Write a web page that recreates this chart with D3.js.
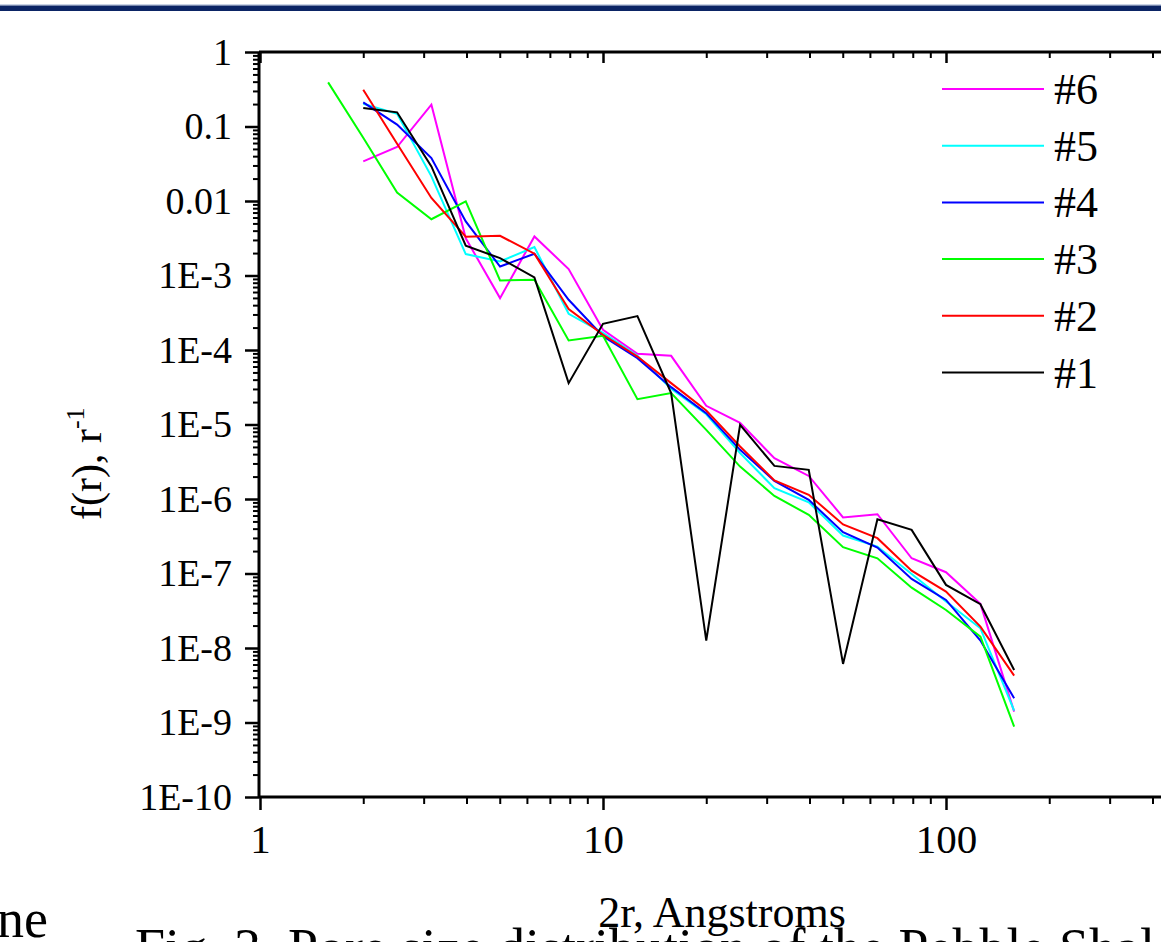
<!DOCTYPE html>
<html>
<head>
<meta charset="utf-8">
<script src="https://cdn.jsdelivr.net/npm/d3@7/dist/d3.min.js"></script>
<style>
  body { margin: 0; background: #fff; }
  svg { display: block; font-family: "Liberation Serif", "Times New Roman", serif; }
</style>
</head>
<body>
<svg id="chart" width="1161" height="942"></svg>
<script>
// pore diameter 2r, Angstroms
const diameters = [1.58, 2, 2.51, 3.16, 3.98, 5.01, 6.31, 7.94, 10, 12.6, 15.8,
                   20, 25.1, 31.6, 39.8, 50.1, 63.1, 79.4, 100, 126, 158];

// f(r) for each sample
const s6 = [null, 0.034, 0.053, 0.196, 3.16e-3, 4.97e-4, 3.34e-3, 1.22e-3, 1.87e-4, 8.9e-5, 8.35e-5,
            1.78e-5, 1.05e-5, 3.53e-6, 2.04e-6, 5.66e-7, 6.25e-7, 1.6e-7, 1.04e-7, 3.91e-8, 1.4e-9];
const s5 = [null, 0.202, 0.148, 0.0214, 1.94e-3, 1.54e-3, 2.41e-3, 3.06e-4, 1.7e-4, 8.35e-5, 3.01e-5,
            1.37e-5, 4.12e-6, 1.4e-6, 9.01e-7, 3.23e-7, 2.3e-7, 9.87e-8, 4.2e-8, 1.84e-8, 1.44e-9];
const s4 = [null, 0.211, 0.106, 0.0377, 5.31e-3, 1.32e-3, 1.96e-3, 4.72e-4, 1.53e-4, 7.78e-5, 3.17e-5,
            1.42e-5, 4.57e-6, 1.75e-6, 9.73e-7, 3.58e-7, 2.23e-7, 8.46e-8, 4.42e-8, 1.26e-8, 2.11e-9];
const s3 = [0.391, 0.0706, 0.013, 5.69e-3, 9.86e-3, 8.57e-4, 8.75e-4, 1.34e-4, 1.55e-4, 2.19e-5, 2.64e-5,
            8.47e-6, 2.72e-6, 1.1e-6, 6.12e-7, 2.26e-7, 1.6e-7, 6.46e-8, 3.24e-8, 1.42e-8, 8.8e-10];
const s2 = [null, 0.312, 0.0587, 0.011, 3.31e-3, 3.41e-3, 1.96e-3, 3.54e-4, 1.6e-4, 8.17e-5, 3.59e-5,
            1.54e-5, 5.06e-6, 1.78e-6, 1.14e-6, 4.56e-7, 2.98e-7, 1.09e-7, 5.71e-8, 1.94e-8, 4.26e-9];
const s1 = [null, 0.177, 0.155, 0.0291, 2.51e-3, 1.71e-3, 9.4e-4, 3.59e-5, 2.25e-4, 2.85e-4, 2.64e-5,
            1.26e-8, 9.89e-6, 2.78e-6, 2.46e-6, 6.11e-9, 5.36e-7, 3.85e-7, 7.03e-8, 3.87e-8, 5.07e-9];

const seriesNames = ["#6", "#5", "#4", "#3", "#2", "#1"];
const seriesColors = ["#ff00ff", "#00ffff", "#0000ff", "#00ff00", "#ff0000", "#000000"];
const seriesValues = [s6, s5, s4, s3, s2, s1];

const yMajorTicks = [1, 0.1, 0.01, 1e-3, 1e-4, 1e-5, 1e-6, 1e-7, 1e-8, 1e-9, 1e-10];
const xMajorTicks = [1, 10, 100];

const svg = d3.select("#chart");

const x = d3.scaleLog().domain([1, 1000]).range([260, 1289]);
const y = d3.scaleLog().domain([1e-10, 1]).range([797, 52]);

// slide header band
svg.append("rect").attr("x", 0).attr("y", 4).attr("width", 1161).attr("height", 1.5).attr("fill", "#c9d3e6");
svg.append("rect").attr("x", 0).attr("y", 5.5).attr("width", 1161).attr("height", 5.5).attr("fill", "#0b2465");

// minor tick positions
let xMinor = [], yMinor = [];
for (let e = 0; e < 3; e++) for (let k = 2; k < 10; k++) xMinor.push(k * 10 ** e);
for (let e = -10; e < 0; e++) for (let k = 2; k < 10; k++) yMinor.push(k * 10 ** e);

function styleAxis(g, w) {
  g.select(".domain").remove();
  g.selectAll(".tick line").attr("stroke", "#000").attr("stroke-width", w);
}

// bottom axis
svg.append("g").attr("transform", "translate(0,797)")
  .call(d3.axisBottom(x).tickValues(xMinor).tickSize(7).tickFormat(""))
  .call(g => styleAxis(g, 2));
svg.append("g").attr("transform", "translate(0,797)")
  .call(d3.axisBottom(x).tickValues(xMajorTicks).tickSize(13).tickPadding(14).tickFormat(d3.format("d")))
  .call(g => styleAxis(g, 2.5))
  .call(g => g.selectAll("text").attr("fill", "#000").attr("font-size", 41)
                .attr("font-family", "Liberation Serif"));

// top frame
svg.append("g").attr("transform", "translate(0,52)")
  .call(d3.axisBottom(x).tickValues(xMinor).tickSize(6).tickFormat(""))
  .call(g => styleAxis(g, 2));
svg.append("g").attr("transform", "translate(0,52)")
  .call(d3.axisBottom(x).tickValues(xMajorTicks).tickSize(11).tickFormat(""))
  .call(g => styleAxis(g, 2.5));

// left axis
svg.append("g").attr("transform", "translate(259,0)")
  .call(d3.axisLeft(y).tickValues(yMinor).tickSize(6).tickFormat(""))
  .call(g => styleAxis(g, 2));
svg.append("g").attr("transform", "translate(259,0)")
  .call(d3.axisLeft(y).tickValues(yMajorTicks).tickSize(14).tickPadding(13)
    .tickFormat(d => d >= 0.01 ? String(d) : "1E" + Math.round(Math.log10(d))))
  .call(g => styleAxis(g, 2.5))
  .call(g => g.selectAll("text").attr("fill", "#000").attr("font-size", 38)
                .attr("font-family", "Liberation Serif"));

// axis lines
svg.append("line").attr("x1", x(1) - 1).attr("x2", 1161).attr("y1", y(1e-10)).attr("y2", y(1e-10))
  .attr("stroke", "#000").attr("stroke-width", 3);
svg.append("line").attr("x1", x(1) - 1).attr("x2", 1161).attr("y1", y(1)).attr("y2", y(1))
  .attr("stroke", "#000").attr("stroke-width", 3);
svg.append("line").attr("x1", x(1) - 1).attr("x2", x(1) - 1).attr("y1", y(1)).attr("y2", y(1e-10))
  .attr("stroke", "#000").attr("stroke-width", 3);

// series lines
const line = d3.line()
  .defined(d => d[1] != null)
  .x(d => x(d[0]))
  .y(d => y(d[1]));

svg.append("g").selectAll("path")
  .data(seriesValues)
  .join("path")
  .attr("d", vals => line(diameters.map((r, i) => [r, vals[i]])))
  .attr("fill", "none")
  .attr("stroke", (d, i) => seriesColors[i])
  .attr("stroke-width", 2)
  .attr("stroke-linejoin", "miter");

// legend
const legend = svg.append("g");
seriesNames.forEach((name, i) => {
  const ly = 89 + i * 56.7;
  legend.append("line").attr("x1", 942).attr("x2", 1044).attr("y1", ly).attr("y2", ly)
    .attr("stroke", seriesColors[i]).attr("stroke-width", 2);
  legend.append("text").attr("x", 1054).attr("y", ly + 15)
    .attr("font-size", 44).attr("fill", "#000").text(name);
});

// axis titles
svg.append("text").attr("x", 722).attr("y", 927).attr("text-anchor", "middle")
  .attr("font-size", 44).text("2r, Angstroms");

const yTitle = svg.append("text").attr("transform", "translate(101,520) rotate(-90)")
  .attr("font-size", 42);
yTitle.append("tspan").text("f(r), r");
yTitle.append("tspan").attr("dy", -17).attr("font-size", 26).text("-1");

// slide caption fragments below the figure
svg.append("text").attr("x", -3).attr("y", 937).attr("font-size", 54).text("ne");
svg.append("text").attr("x", 135).attr("y", 966).attr("font-size", 54)
  .text("Fig. 3. Pore size distribution of the Pebble Shale");
</script>
</body>
</html>
